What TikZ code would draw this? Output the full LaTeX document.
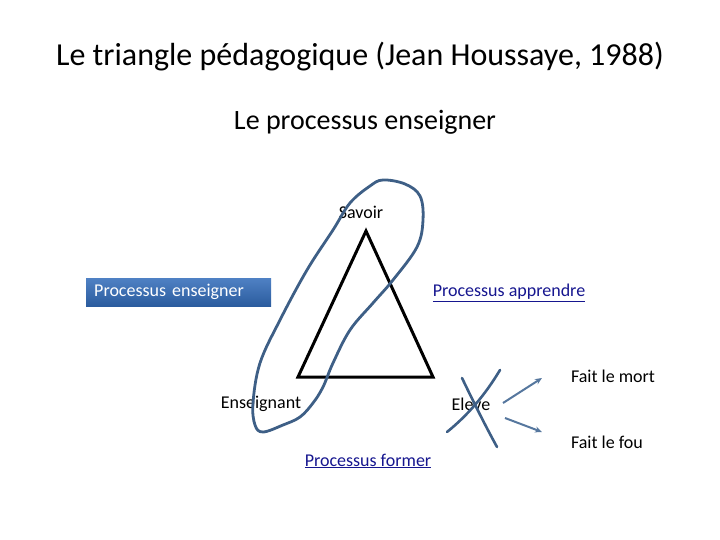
\documentclass[tikz,border=0pt]{standalone}
\usepackage{fontspec}
\setmainfont{Carlito}
\usetikzlibrary{arrows.meta}
\definecolor{loopblue}{HTML}{3E5F86}
\definecolor{arrblue}{HTML}{56779E}
\definecolor{linkblue}{HTML}{16168F}
\definecolor{boxtop}{HTML}{4F81C4}
\definecolor{boxbot}{HTML}{2B5C9E}
\tikzset{
  lbl/.style={inner sep=0pt, font=\fontsize{18}{20}\selectfont},
  link/.style={lbl, text=linkblue},
  hand/.style={draw=loopblue, line width=2.8pt, line cap=round, line join=round},
  flow/.style={draw=arrblue, line width=2pt, -{Stealth[length=7pt,width=6pt]}}
}
\begin{document}
\begin{tikzpicture}[x=1pt,y=-1pt]
\useasboundingbox (0,0) rectangle (720,540);
\node[inner sep=0pt, font=\fontsize{32}{36}\selectfont] (title) at (360,57) {Le triangle pédagogique (Jean Houssaye, 1988)};
\node[inner sep=0pt, font=\fontsize{28}{32}\selectfont] (sub) at (365,122) {Le processus enseigner};
% triangle
\coordinate (A) at (366,231);
\coordinate (B) at (298,377);
\coordinate (C) at (433,377);
\draw[line width=3pt, line join=miter] (A) -- (B) -- (C) -- cycle;
\node[lbl] (savoir) at (361,212) {Savoir};
\node[lbl] (ens) at (261,404) {Enseignant};
\node[lbl] (eleve) at (471,404) {Eleve};
\node[link] (papp) at (509,293) {\underline{Processus apprendre}};
\node[link] (pform) at (368,461) {\underline{Processus former}};
\node[lbl, text=white, anchor=west, text width=169pt, inner xsep=8pt, inner ysep=0pt,
  minimum height=28pt, align=left, top color=boxtop, bottom color=boxbot] (pens) at (86,292) {Processus enseigner};
\node[lbl] (mort) at (613,376) {Fait le mort};
\node[lbl] (fou) at (607,442) {Fait le fou};
% hand drawn loop
\draw[hand] plot[smooth cycle, tension=0.6] coordinates {(383,180) (405,184) (420,196) (423,220) (417,247) (393,280) (373,303) (350,330) (333,363) (323,387) (313,403) (300,417) (283,425) (263,432) (255,425) (253,403) (260,363) (280,320) (307,270) (333,230) (350,203) (370,186)};
% cross over Eleve
\draw[hand, line width=2.6pt] (462,378) .. controls (475,405) and (485,425) .. (497,447);
\draw[hand, line width=2.6pt] (500,370) .. controls (485,395) and (468,415) .. (447,432);
% arrows
\coordinate (m1) at (503,403);
\coordinate (m2) at (542,378);
\coordinate (f1) at (505,418);
\coordinate (f2) at (542,432);
\draw[flow] (m1) -- (m2);
\draw[flow] (f1) -- (f2);
\end{tikzpicture}
\end{document}
